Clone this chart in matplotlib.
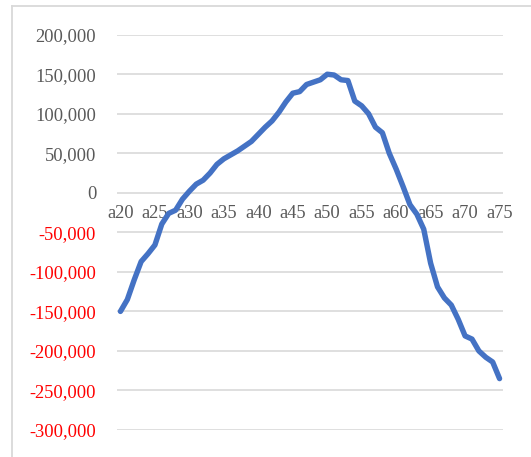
import matplotlib
matplotlib.use("Agg")
import matplotlib.pyplot as plt
from matplotlib.lines import Line2D
from matplotlib.ticker import FuncFormatter
import matplotlib.transforms as mtransforms

# Ages a20 .. a75
categories = [f"a{n}" for n in range(20, 76)]

values = [
    -150000, -135000, -110000, -87000, -77000, -66000, -39500, -26000, -22000, -8000,
    2000, 11000, 16000, 25000, 36000, 43000, 48000, 53000, 59000, 65000,
    74000, 83000, 91000, 102000, 115000, 126000, 128000, 137000, 140000, 143000,
    150000, 149000, 143000, 142000, 116000, 110000, 100000, 83000, 76000, 50000,
    30000, 8000, -15000, -27000, -46000, -89000, -119000, -133000, -142000, -160000,
    -181000, -185000, -200000, -208000, -214000, -235000,
]

shown_labels = categories[::5]
y_ticks = list(range(-300000, 200001, 50000))

W, H = 531, 457
fig = plt.figure(figsize=(W / 100, H / 100), dpi=100)
fig.patch.set_facecolor("white")

# chart-area border (top and left edges)
border = "#D9D9D9"
fig.add_artist(Line2D([12 / W, 1.0], [1 - 6 / H, 1 - 6 / H], color=border, lw=1.3, transform=fig.transFigure))
fig.add_artist(Line2D([12 / W, 12 / W], [0.0, 1 - 6 / H], color=border, lw=1.3, transform=fig.transFigure))

left, right = 117 / W, 503 / W
bottom, top = 1 - 430 / H, 1 - 34.7 / H
ax = fig.add_axes([left, bottom, right - left, top - bottom])

x = list(range(len(categories)))
ax.plot(x, values, color="#4472C4", lw=3.9, solid_capstyle="round", solid_joinstyle="round", zorder=3)

ax.set_xlim(-0.5, len(categories) - 0.5)
ax.set_ylim(-300000, 200000)
ax.set_yticks(y_ticks)
ax.yaxis.set_major_formatter(FuncFormatter(lambda v, p: f"{int(v):,}"))
ax.grid(axis="y", color="#D9D9D9", lw=1.2)
ax.set_axisbelow(True)
for s in ax.spines.values():
    s.set_visible(False)
ax.tick_params(axis="y", length=0, pad=15)
ax.set_xticks([])

font = "Liberation Serif"
for lab, v in zip(ax.get_yticklabels(), y_ticks):
    lab.set_fontfamily(font)
    lab.set_fontsize(13.3)
    lab.set_color("#FF0000" if v < 0 else "#595959")

# category labels sit just under the zero line
offset = mtransforms.offset_copy(ax.transData, fig=fig, x=0, y=-21, units="dots")
for i, name in enumerate(categories):
    if name in shown_labels:
        ax.text(i, 0, name, transform=offset, ha="center", va="center",
                fontfamily=font, fontsize=13.3, color="#595959", zorder=2)

fig.savefig("out.png", dpi=100, facecolor="white")
